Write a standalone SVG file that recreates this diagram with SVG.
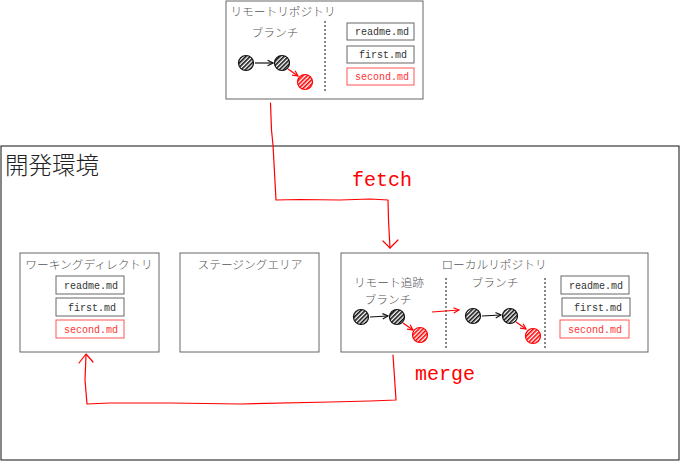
<svg xmlns="http://www.w3.org/2000/svg" width="680" height="461" viewBox="0 0 680 461">
<style>
.box{fill:#fff;stroke:#666;stroke-width:1}
.title{font-family:"Noto Sans CJK JP","Noto Sans",sans-serif;font-size:11.7px;font-weight:300;fill:#555;text-anchor:middle}
.file{fill:#fff;stroke:#666;stroke-width:1}
.fileR{fill:#fff;stroke:#f55;stroke-width:1}
.ft{font-family:"Liberation Mono",monospace;font-size:10px;fill:#333;text-anchor:middle}
.ftR{font-family:"Liberation Mono",monospace;font-size:10px;fill:#f33;text-anchor:middle}
.cb{fill:url(#hb);stroke:#111;stroke-width:1.2}
.cr{fill:url(#hr);stroke:#f00;stroke-width:1.2}
.dot{stroke:#111;stroke-width:1;stroke-dasharray:2 2}
.red{fill:none;stroke:#f00;stroke-width:1.2;stroke-linejoin:round;stroke-linecap:round}
.lbl{font-family:"Liberation Mono",monospace;font-size:20px;fill:#f00}
</style>
<defs>
<pattern id="hb" patternUnits="userSpaceOnUse" width="3" height="3" patternTransform="rotate(45)"><rect width="3" height="3" fill="#fff"/><rect width="1.6" height="3" fill="#111"/></pattern>
<pattern id="hr" patternUnits="userSpaceOnUse" width="3" height="3" patternTransform="rotate(45)"><rect width="3" height="3" fill="#fff"/><rect width="1.6" height="3" fill="#f00"/></pattern>
<marker id="ab" viewBox="0 0 8 8" refX="7" refY="4" markerWidth="6" markerHeight="6" orient="auto"><path d="M1,1 L7,4 L1,7" fill="none" stroke="#111" stroke-width="1.3"/></marker>
<marker id="ar" viewBox="0 0 8 8" refX="7" refY="4" markerWidth="6" markerHeight="6" orient="auto"><path d="M1,1 L7,4 L1,7" fill="none" stroke="#f00" stroke-width="1.3"/></marker>
</defs>

<g id="dev-env">
<rect x="1" y="146" width="678" height="314" fill="none" stroke="#111" stroke-width="1"/>
<text x="5" y="174" font-family="'Noto Sans CJK JP','Noto Sans',sans-serif" font-size="23.5" font-weight="300" fill="#222">開発環境</text>
</g>

<g id="remote-repo">
<rect class="box" x="226" y="1" width="197" height="98"/>
<text class="title" x="283" y="16">リモートリポジトリ</text>
<text class="title" x="275" y="37">ブランチ</text>
<line class="dot" x1="325" y1="21" x2="325" y2="91"/>
<circle class="cb" cx="246" cy="63" r="7.5"/>
<circle class="cb" cx="282" cy="63" r="7.5"/>
<circle class="cr" cx="305" cy="82" r="7.5"/>
<line x1="255" y1="63" x2="273" y2="63" stroke="#111" stroke-width="1.2" marker-end="url(#ab)"/>
<line x1="288" y1="69" x2="298" y2="76" stroke="#f00" stroke-width="1.2" marker-end="url(#ar)"/>
<rect class="file" x="347" y="23" width="67" height="17"/>
<text class="ft" x="382" y="35">readme.md</text>
<rect class="file" x="347" y="46" width="67" height="17"/>
<text class="ft" x="383" y="58">first.md</text>
<rect class="fileR" x="347" y="68" width="67" height="17"/>
<text class="ftR" x="382" y="80">second.md</text>
</g>

<g id="working-dir">
<rect class="box" x="20" y="253" width="139" height="99"/>
<text class="title" x="89" y="269">ワーキングディレクトリ</text>
<rect class="file" x="56" y="276" width="68" height="18"/>
<text class="ft" x="91" y="289">readme.md</text>
<rect class="file" x="56" y="298" width="68" height="18"/>
<text class="ft" x="92" y="311">first.md</text>
<rect class="fileR" x="56" y="320" width="68" height="18"/>
<text class="ftR" x="91" y="333">second.md</text>
</g>

<g id="staging">
<rect class="box" x="180" y="253" width="139" height="99"/>
<text class="title" x="250" y="269">ステージングエリア</text>
</g>

<g id="local-repo">
<rect class="box" x="341" y="253" width="307" height="99"/>
<text class="title" x="494" y="269">ローカルリポジトリ</text>
<text class="title" x="389" y="287">リモート追跡</text>
<text class="title" x="388" y="304">ブランチ</text>
<text class="title" x="495" y="287">ブランチ</text>
<line class="dot" x1="446" y1="278" x2="446" y2="350"/>
<line class="dot" x1="545" y1="278" x2="545" y2="350"/>
<circle class="cb" cx="361" cy="317" r="7.5"/>
<circle class="cb" cx="397" cy="317" r="7.5"/>
<circle class="cr" cx="420" cy="335" r="7.5"/>
<line x1="370" y1="317" x2="388" y2="316" stroke="#111" stroke-width="1.2" marker-end="url(#ab)"/>
<line x1="403" y1="323" x2="413" y2="330" stroke="#f00" stroke-width="1.2" marker-end="url(#ar)"/>
<line x1="432" y1="312" x2="459" y2="310" stroke="#f00" stroke-width="1.2" marker-end="url(#ar)"/>
<circle class="cb" cx="473" cy="316" r="7.5"/>
<circle class="cb" cx="510" cy="316" r="7.5"/>
<circle class="cr" cx="533" cy="336" r="7.5"/>
<line x1="482" y1="316" x2="501" y2="315" stroke="#111" stroke-width="1.2" marker-end="url(#ab)"/>
<line x1="516" y1="322" x2="526" y2="329" stroke="#f00" stroke-width="1.2" marker-end="url(#ar)"/>
<rect class="file" x="561" y="276" width="68" height="18"/>
<text class="ft" x="596" y="289">readme.md</text>
<rect class="file" x="562" y="298" width="68" height="18"/>
<text class="ft" x="598" y="311">first.md</text>
<rect class="fileR" x="560" y="320" width="69" height="18"/>
<text class="ftR" x="595" y="333">second.md</text>
</g>

<g id="connectors">
<path class="red" d="M270.5,103 L271.5,130 L273,145 L276,200 L300,199.5 L340,200 L370,199 L388,200 L388.5,220 L390,248"/>
<path class="red" d="M383,241 L390,248 L398,240"/>
<text class="lbl" x="352" y="186">fetch</text>
<path class="red" d="M393,355 L394,370 L396,400 L370,401 L330,402 L240,404 L170,403 L110,403 L87,404 L85,380 L86,355"/>
<path class="red" d="M79,363 L86,354 L93,362"/>
<text class="lbl" x="415" y="380">merge</text>
</g>
</svg>
